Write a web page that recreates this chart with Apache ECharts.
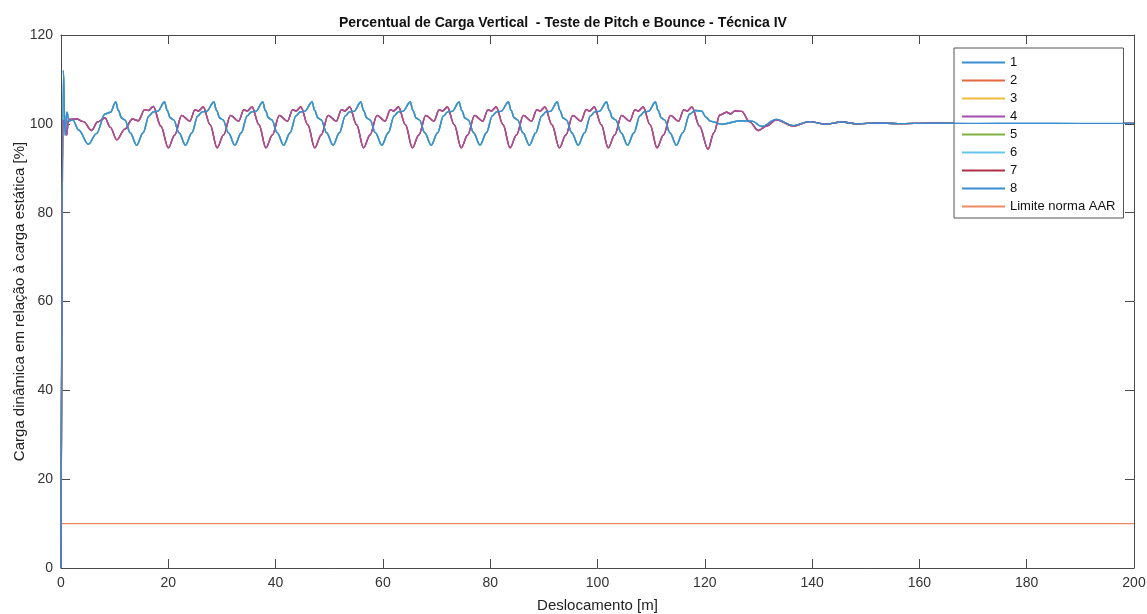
<!DOCTYPE html>
<html>
<head>
<meta charset="utf-8">
<script src="https://cdn.jsdelivr.net/npm/echarts@6/dist/echarts.min.js"></script>
<style>
  html, body { margin: 0; padding: 0; background: #fff; }
  #chart { width: 1147px; height: 614px; }
</style>
</head>
<body>
<div id="chart"></div>
<script>
  // nomes da legenda e cores (ordem do MATLAB)
  var legendNames = ['1', '2', '3', '4', '5', '6', '7', '8', 'Limite norma AAR']
  var lineColors = ['#3a8dcf', '#e5693f', '#efbb3c', '#a24fae', '#7fb23e', '#66c6ee', '#b03048', '#3a8dcf', '#ee8a64']
  var limitLevel = 10

  // rodas 1, 5, 6, 8 (curva azul) - [deslocamento m, carga %]
  var groupA = [
    [0, 0], [0.45, 112], [0.75, 97.5], [1.1, 102.6], [1.5, 100.6], [2.2, 100.9], [3.3, 98.6], [5.1, 95.4], [6.6, 97.8], [8.2, 102.2], [9.2, 102.6],
    [10.2, 104.9], [10.7, 103.0], [11.3, 101.3], [11.9, 100.9], [12.9, 98.0], [14.1, 95.2], [15.3, 98.0], [16.4, 101.8], [17.2, 102.7], [18.0, 102.8],
    [19.3, 104.9], [19.8, 103.0], [20.4, 101.3], [21.0, 100.9], [22.0, 98.0], [23.2, 95.2], [24.4, 98.0], [25.5, 101.8], [26.3, 102.7], [27.1, 102.8],
    [28.5, 104.9], [29.0, 103.0], [29.6, 101.3], [30.2, 100.9], [31.2, 98.0], [32.4, 95.2], [33.6, 98.0], [34.7, 101.8], [35.5, 102.7], [36.3, 102.8],
    [37.6, 104.9], [38.1, 103.0], [38.7, 101.3], [39.3, 100.9], [40.3, 98.0], [41.5, 95.2], [42.7, 98.0], [43.8, 101.8], [44.6, 102.7], [45.4, 102.8],
    [46.8, 104.9], [47.3, 103.0], [47.9, 101.3], [48.5, 100.9], [49.5, 98.0], [50.7, 95.2], [51.9, 98.0], [53.0, 101.8], [53.8, 102.7], [54.6, 102.8],
    [55.9, 104.9], [56.4, 103.0], [57.0, 101.3], [57.6, 100.9], [58.6, 98.0], [59.8, 95.2], [61.0, 98.0], [62.1, 101.8], [62.9, 102.7], [63.7, 102.8],
    [65.1, 104.9], [65.6, 103.0], [66.2, 101.3], [66.8, 100.9], [67.8, 98.0], [69.0, 95.2], [70.2, 98.0], [71.3, 101.8], [72.1, 102.7], [72.9, 102.8],
    [74.2, 104.9], [74.7, 103.0], [75.3, 101.3], [75.9, 100.9], [76.9, 98.0], [78.1, 95.2], [79.3, 98.0], [80.4, 101.8], [81.2, 102.7], [82.0, 102.8],
    [83.4, 104.9], [83.9, 103.0], [84.5, 101.3], [85.1, 100.9], [86.1, 98.0], [87.3, 95.2], [88.5, 98.0], [89.6, 101.8], [90.4, 102.7], [91.2, 102.8],
    [92.5, 104.9], [93.0, 103.0], [93.6, 101.3], [94.2, 100.9], [95.2, 98.0], [96.4, 95.2], [97.6, 98.0], [98.7, 101.8], [99.5, 102.7], [100.3, 102.8],
    [101.7, 104.9], [102.2, 103.0], [102.8, 101.3], [103.4, 100.9], [104.4, 98.0], [105.6, 95.2], [106.8, 98.0], [107.9, 101.8], [108.7, 102.7], [109.5, 102.8],
    [110.8, 104.9], [111.3, 103.0], [111.9, 101.3], [112.5, 100.9], [113.5, 98.0], [114.7, 95.2], [115.9, 98.0], [117.2, 102.2], [118.2, 103.0], [119.4, 102.9],
    [120.2, 101.5], [121.0, 100.6], [123.2, 99.9], [126.6, 100.7], [128.8, 100.6], [130.6, 99.4], [133.3, 101.0], [136.5, 99.6], [139.5, 100.5],
    [142.5, 99.9], [145.5, 100.4], [148.6, 100.0], [152, 100.2], [156, 100.05], [162, 100.15], [170, 100.1], [180, 100.15], [190, 100.1], [200, 100.1]
  ]

  // rodas 2, 3, 4, 7 (curva roxa)
  var groupB = [
    [0, 0], [0.35, 100.8], [0.7, 100.2], [1.05, 97.5], [1.4, 101.0], [2.9, 101.1], [4.2, 100.5], [5.7, 98.5], [6.8, 100.4], [8.2, 101.3], [9.2, 99.2],
    [10.4, 96.4], [11.9, 98.8], [13.3, 101.1], [14.4, 100.7], [15.6, 103.2], [16.3, 103.0], [17.2, 103.9], [18.6, 99.5],
    [20.0, 94.6], [21.2, 97.5], [22.5, 101.9], [24.0, 100.6], [25.0, 103.2], [25.6, 102.9], [26.5, 103.8], [27.8, 99.8],
    [29.1, 94.6], [30.3, 97.5], [31.6, 101.9], [33.1, 100.6], [34.1, 103.2], [34.7, 102.9], [35.6, 103.8], [36.9, 99.8],
    [38.2, 94.6], [39.4, 97.5], [40.7, 101.9], [42.2, 100.6], [43.2, 103.2], [43.8, 102.9], [44.7, 103.8], [46.0, 99.8],
    [47.3, 94.6], [48.5, 97.5], [49.8, 101.9], [51.3, 100.6], [52.3, 103.2], [52.9, 102.9], [53.8, 103.8], [55.1, 99.8],
    [56.4, 94.6], [57.6, 97.5], [58.9, 101.9], [60.4, 100.6], [61.4, 103.2], [62.0, 102.9], [62.9, 103.8], [64.2, 99.8],
    [65.5, 94.6], [66.7, 97.5], [68.0, 101.9], [69.5, 100.6], [70.5, 103.2], [71.1, 102.9], [72.0, 103.8], [73.3, 99.8],
    [74.6, 94.6], [75.8, 97.5], [77.1, 101.9], [78.6, 100.6], [79.6, 103.2], [80.2, 102.9], [81.1, 103.8], [82.4, 99.8],
    [83.7, 94.6], [84.9, 97.5], [86.2, 101.9], [87.7, 100.6], [88.7, 103.2], [89.3, 102.9], [90.2, 103.8], [91.5, 99.8],
    [92.9, 94.6], [94.1, 97.5], [95.4, 101.9], [96.9, 100.6], [97.9, 103.2], [98.5, 102.9], [99.4, 103.8], [100.7, 99.8],
    [102.0, 94.6], [103.2, 97.5], [104.5, 101.9], [106.0, 100.6], [107.0, 103.2], [107.6, 102.9], [108.5, 103.8], [109.8, 99.8],
    [111.1, 94.6], [112.3, 97.5], [113.6, 101.9], [115.1, 100.6], [116.1, 103.2], [116.7, 102.9], [117.6, 103.8], [119.0, 99.5],
    [120.6, 94.3], [121.7, 98.0], [122.8, 102.0], [124.1, 102.6], [124.8, 102.2], [125.6, 102.9], [126.9, 102.8], [128.3, 100.5],
    [130.0, 98.5], [131.5, 99.5], [133.3, 100.9], [136.5, 99.5], [139.5, 100.5],
    [142.5, 99.9], [145.5, 100.4], [148.6, 100.0], [152, 100.2], [156, 100.05], [162, 100.15], [170, 100.1], [180, 100.15], [190, 100.1], [200, 100.1]
  ]

  // qual grupo de dados cada roda usa (1..8)
  var wheelGroup = ['A', 'B', 'B', 'B', 'A', 'A', 'B', 'A']

  var chart = echarts.init(document.getElementById('chart'))

  var series = []
  for (var i = 0; i < 8; i++) {
    series.push({
      name: legendNames[i],
      type: 'line',
      data: wheelGroup[i] === 'A' ? groupA : groupB,
      symbol: 'none',
      smooth: 0.35,
      smoothMonotone: 'x',
      z: i === 3 ? 3 : (i === 7 ? 4 : 2),
      lineStyle: { width: 1.4, color: lineColors[i] },
      itemStyle: { color: lineColors[i] }
    })
  }
  series.push({
    name: legendNames[8],
    type: 'line',
    data: [[0, limitLevel], [200, limitLevel]],
    symbol: 'none',
    lineStyle: { width: 1.4, color: lineColors[8] },
    itemStyle: { color: lineColors[8] }
  })

  var axisCommon = {
    type: 'value',
    axisLine: { show: true, onZero: false, lineStyle: { color: '#4a4a4a', width: 1 } },
    axisTick: { show: true, inside: true, length: 9, lineStyle: { color: '#4a4a4a' } },
    splitLine: { show: false }
  }

  var option = {
    backgroundColor: '#fff',
    animation: false,
    textStyle: { fontFamily: 'Liberation Sans, Arial, sans-serif' },
    title: {
      text: 'Percentual de Carga Vertical  - Teste de Pitch e Bounce - Técnica IV',
      left: 334,
      top: 11,
      textStyle: { fontSize: 14, fontWeight: 'bold', color: '#111', fontFamily: 'Liberation Sans, Arial, sans-serif' }
    },
    grid: { left: 61, right: 13, top: 35, bottom: 46, containLabel: false, outerBoundsMode: 'none' },
    legend: {
      data: legendNames,
      orient: 'vertical',
      left: 954,
      top: 48,
      padding: [8, 8, 5, 8],
      icon: 'rect',
      itemWidth: 43,
      itemHeight: 2,
      itemGap: 5,
      backgroundColor: '#fff',
      borderColor: '#555',
      borderWidth: 1,
      textStyle: { fontSize: 13, lineHeight: 13, color: '#111', padding: [0, 0, 0, 0] }
    },
    xAxis: [
      Object.assign({}, axisCommon, {
        min: 0, max: 200, interval: 20, position: 'bottom',
        axisLabel: { fontSize: 14, color: '#333', margin: 8 },
        name: 'Deslocamento [m]',
        nameLocation: 'middle',
        nameGap: 30,
        nameMoveOverlap: false,
        nameTextStyle: { fontSize: 15, color: '#222' }
      }),
      Object.assign({}, axisCommon, {
        min: 0, max: 200, interval: 20, position: 'top',
        axisLabel: { show: false }
      })
    ],
    yAxis: [
      Object.assign({}, axisCommon, {
        min: 0, max: 120, interval: 20, position: 'left',
        axisLabel: { fontSize: 14, color: '#333', margin: 8 },
        name: 'Carga dinâmica em relação à carga estática [%]',
        nameLocation: 'middle',
        nameGap: 34,
        nameMoveOverlap: false,
        nameRotate: 90,
        nameTextStyle: { fontSize: 15, color: '#222' }
      }),
      Object.assign({}, axisCommon, {
        min: 0, max: 120, interval: 20, position: 'right',
        axisLabel: { show: false }
      })
    ],
    series: series
  }

  chart.setOption(option)
</script>
</body>
</html>
